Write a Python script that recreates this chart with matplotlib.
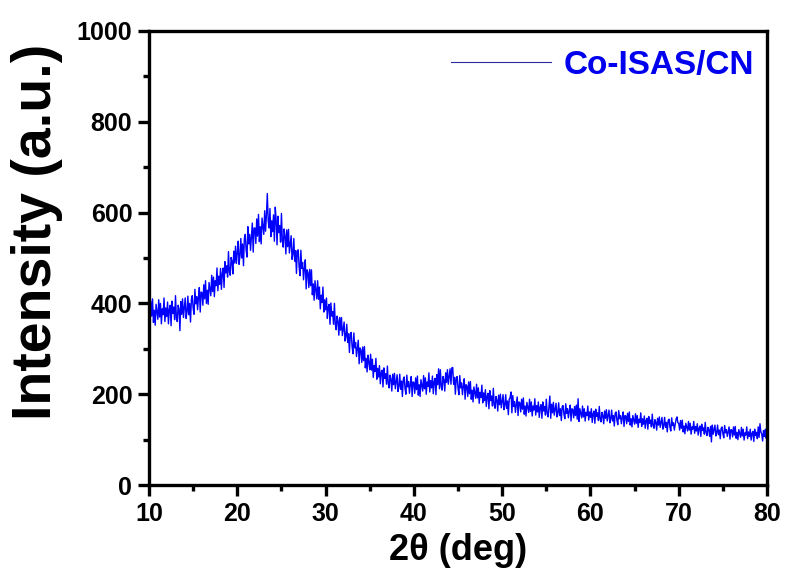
import numpy as np
import matplotlib.pyplot as plt
from matplotlib.ticker import MultipleLocator

plt.rcParams['font.family'] = ['Liberation Sans', 'DejaVu Sans']
plt.rcParams['font.weight'] = 'bold'

# XRD scan of Co-ISAS/CN, 10-80 deg, 0.1 deg step (one row = 2 deg)
two_theta_start = 10.0
two_theta_step = 0.1
intensity = [
    392, 362, 405, 372, 410, 358, 385, 352, 398, 382, 365, 408, 370, 400, 355, 388, 375, 412, 360, 390,  # 10
    371, 403, 355, 387, 396, 351, 405, 378, 392, 364, 417, 370, 360, 396, 387, 340, 404, 376, 410, 369,  # 12
    391, 412, 367, 381, 416, 375, 400, 359, 409, 417, 389, 376, 431, 399, 415, 386, 413, 435, 381, 425,  # 14
    424, 396, 441, 410, 450, 400, 429, 398, 446, 432, 417, 462, 426, 458, 415, 450, 439, 478, 428, 460,  # 16
    442, 477, 431, 466, 478, 435, 492, 467, 483, 458, 514, 469, 462, 501, 493, 465, 515, 489, 526, 488,  # 18
    511, 537, 486, 505, 543, 500, 531, 483, 543, 552, 517, 502, 569, 531, 552, 517, 549, 577, 513, 566,  # 20
    566, 532, 586, 548, 596, 536, 569, 531, 588, 570, 552, 604, 559, 595, 642, 582, 566, 609, 547, 582,  # 22
    558, 595, 537, 612, 584, 529, 592, 556, 571, 535, 598, 539, 524, 564, 549, 509, 562, 525, 563, 511,  # 24
    531, 549, 497, 508, 543, 493, 516, 466, 516, 518, 481, 461, 517, 477, 490, 452, 477, 496, 432, 474,  # 26
    468, 435, 475, 439, 474, 419, 443, 407, 450, 431, 410, 450, 409, 436, 388, 418, 402, 436, 381, 408,  # 28
    386, 412, 367, 392, 398, 354, 401, 372, 382, 354, 400, 354, 342, 372, 361, 330, 369, 341, 369, 329,  # 30
    345, 359, 317, 327, 354, 314, 333, 292, 333, 336, 305, 289, 335, 302, 314, 283, 302, 319, 267, 302,  # 32
    297, 270, 304, 274, 305, 258, 279, 249, 286, 271, 254, 288, 253, 277, 237, 263, 250, 279, 233, 257,  # 34
    238, 263, 223, 248, 253, 216, 258, 235, 245, 222, 262, 223, 214, 242, 233, 207, 244, 221, 246, 212,  # 36
    227, 243, 206, 217, 244, 211, 229, 195, 233, 238, 212, 200, 242, 216, 228, 202, 222, 239, 195, 227,  # 38
    226, 202, 236, 210, 240, 198, 221, 195, 232, 220, 207, 241, 212, 236, 200, 227, 217, 247, 205, 230,  # 40
    214, 240, 201, 228, 235, 199, 243, 221, 256, 212, 254, 217, 209, 239, 231, 207, 247, 226, 254, 222,  # 42
    238, 256, 222, 258, 259, 222, 237, 200, 236, 239, 213, 199, 241, 214, 225, 199, 218, 234, 189, 221,  # 44
    218, 195, 227, 201, 228, 189, 209, 183, 216, 204, 191, 222, 192, 214, 180, 204, 193, 220, 181, 203,  # 46
    186, 210, 173, 196, 202, 168, 208, 186, 196, 174, 213, 177, 169, 195, 187, 163, 198, 177, 200, 170,  # 48
    185, 199, 166, 176, 199, 169, 185, 155, 189, 193, 205, 159, 197, 173, 184, 160, 178, 194, 153, 183,  # 50
    181, 161, 189, 167, 192, 156, 174, 152, 182, 171, 160, 189, 162, 183, 152, 174, 165, 190, 154, 175,  # 52
    161, 183, 149, 171, 177, 147, 183, 163, 173, 154, 189, 158, 150, 174, 196, 147, 178, 159, 182, 154,  # 54
    167, 180, 150, 159, 181, 153, 168, 142, 173, 175, 155, 146, 179, 158, 168, 148, 163, 176, 141, 168,  # 56
    166, 148, 173, 153, 176, 145, 190, 140, 168, 158, 148, 174, 150, 168, 141, 160, 153, 174, 143, 161,  # 58
    149, 168, 138, 157, 163, 136, 167, 151, 159, 142, 173, 145, 139, 160, 153, 135, 163, 147, 166, 141,  # 60
    153, 165, 137, 146, 165, 141, 153, 130, 158, 161, 142, 133, 164, 146, 153, 135, 149, 161, 129, 153,  # 62
    152, 135, 158, 140, 161, 132, 146, 128, 153, 144, 134, 157, 136, 153, 127, 145, 138, 159, 129, 146,  # 64
    134, 152, 125, 142, 147, 123, 151, 136, 143, 128, 156, 131, 125, 144, 138, 121, 147, 132, 150, 127,  # 66
    138, 149, 123, 131, 149, 127, 138, 117, 142, 145, 127, 119, 148, 131, 137, 121, 134, 145, 150, 137,  # 68
    136, 121, 142, 125, 143, 117, 130, 113, 136, 128, 119, 140, 121, 136, 112, 128, 123, 140, 114, 129,  # 70
    119, 135, 110, 125, 130, 107, 134, 120, 126, 112, 138, 115, 109, 127, 122, 107, 129, 95, 132, 112,   # 72
    122, 132, 108, 115, 132, 111, 121, 102, 125, 128, 113, 104, 131, 115, 122, 107, 118, 128, 101, 122,  # 74
    121, 106, 128, 110, 129, 103, 116, 100, 122, 114, 105, 127, 108, 123, 99, 115, 110, 128, 102, 117,   # 76
    107, 123, 99, 114, 118, 96, 123, 109, 116, 102, 128, 105, 135, 117, 112, 97, 120, 107, 123, 103,     # 78
    112,                                                                                                 # 80
]
two_theta = two_theta_start + two_theta_step * np.arange(len(intensity))

x_ticks = [10, 20, 30, 40, 50, 60, 70, 80]
y_ticks = [0, 200, 400, 600, 800, 1000]

fig = plt.figure(figsize=(7.88, 5.79), dpi=100)
ax = fig.add_axes([0.1891, 0.1623, 0.7843, 0.7842])

ax.plot(two_theta, intensity, color='#0000ff', lw=1.0, label='Co-ISAS/CN')

ax.set_xlim(10, 80)
ax.set_ylim(0, 1000)
ax.set_xticks(x_ticks)
ax.set_yticks(y_ticks)
ax.xaxis.set_minor_locator(MultipleLocator(5))
ax.yaxis.set_minor_locator(MultipleLocator(100))

for sp in ax.spines.values():
    sp.set_linewidth(2.4)
ax.tick_params(which='major', direction='out', length=8, width=2.4,
               labelsize=18, pad=4)
ax.tick_params(which='minor', direction='out', length=4, width=2.4)
for lab in ax.get_xticklabels() + ax.get_yticklabels():
    lab.set_fontweight('bold')

ax.set_xlabel('2θ (deg)', fontsize=26, fontweight='bold')
ax.set_ylabel('Intensity (a.u.)', fontsize=40, fontweight='bold')
ax.xaxis.set_label_coords(0.5, -0.106)
ax.yaxis.set_label_coords(-0.139, 0.557)

leg = ax.legend(loc='center right', bbox_to_anchor=(1.0, 0.925),
                borderaxespad=0, frameon=False, handlelength=3.0,
                handletextpad=0.38, prop={'size': 24, 'weight': 'bold'},
                labelcolor='#0000ee')
for h in leg.get_lines():
    h.set_linewidth(0.8)
    h.set_color('#2a2aa0')

fig.savefig('out.png', dpi=100)
